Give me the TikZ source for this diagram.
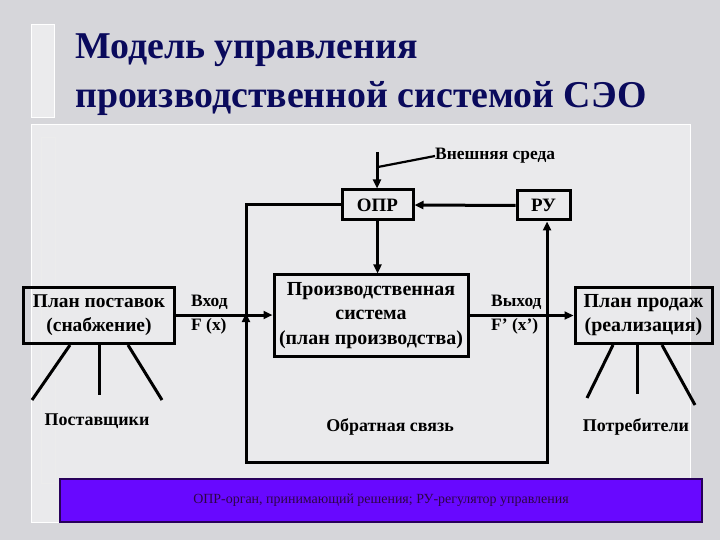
\documentclass[tikz,border=0pt]{standalone}
\usepackage{fontspec}
\setmainfont{Liberation Serif}
\usetikzlibrary{arrows.meta,calc}
\definecolor{bgmarble}{RGB}{214,214,218}
\definecolor{panel}{RGB}{234,234,236}
\definecolor{titleblue}{RGB}{10,10,92}
\definecolor{barfill}{RGB}{104,8,255}
\definecolor{barborder}{RGB}{40,0,90}
\definecolor{bartext}{RGB}{45,5,70}
\tikzset{
  blk/.style={draw=black, line width=3bp, inner sep=0pt, align=center, font=\fontsize{20}{24.5}\selectfont\bfseries},
  lbl/.style={inner sep=0pt, font=\fontsize{17.5}{24}\selectfont\bfseries, align=left},
  wire/.style={draw=black, line width=3bp},
  arr/.style={wire, -{Triangle[length=9bp,width=8bp]}},
  ttl/.style={inner sep=0pt, anchor=base west, font=\fontsize{38}{44}\selectfont\bfseries}
}
\begin{document}
\begin{tikzpicture}[x=1bp,y=-1bp]
\useasboundingbox (0,0) rectangle (720,540);
% background
\fill[bgmarble] (0,0) rectangle (720,540);
\draw[white, line width=1bp, fill=panel] (31,125) rectangle (690,522);
\draw[white, line width=1bp, fill=panel!95!white] (31,25) rectangle (54,118);
\draw[white!85!gray, line width=0.8bp] (41,137) rectangle (55,483);
% title
\node[ttl, text=titleblue] (t1) at (75,59) {Модель управления};
\node[ttl, text=titleblue] (t2) at (75,108) {производственной системой СЭО};
% boxes
\node[blk, minimum width=71bp, minimum height=30bp, font=\fontsize{19}{22}\selectfont\bfseries] (opr) at (377.5,205) {ОПР};
\node[blk, minimum width=53bp, minimum height=29bp, font=\fontsize{19}{22}\selectfont\bfseries] (ru) at (543.5,205.5) {РУ};
\node[blk, minimum width=150bp, minimum height=56bp, font=\fontsize{19.5}{24.5}\selectfont\bfseries] (plan) at (99,315) {План поставок\\(снабжение)};
\node[blk, minimum width=194bp, minimum height=81bp] (prod) at (371,315.5) {Производственная\\система\\(план производства)};
\node[blk, minimum width=137bp, minimum height=56bp] (sales) at (643.5,315) {План продаж\\(реализация)};
% labels
\node[lbl, anchor=west] (vhod) at (191,315) {Вход\\F (x)};
\node[lbl, anchor=west] (vyhod) at (491,315) {Выход\\F’ (x’)};
\node[lbl, anchor=west] (env) at (435,156) {Внешняя среда};
\node[blk, draw=none, font=\fontsize{18}{22}\selectfont\bfseries] (post) at (97,421) {Поставщики};
\node[blk, draw=none, font=\fontsize{18}{22}\selectfont\bfseries] (potr) at (636,427) {Потребители};
\node[blk, draw=none, font=\fontsize{18}{22}\selectfont\bfseries] (obr) at (390,427) {Обратная связь};
% coordinates
\coordinate (envtop) at (377,152);
\coordinate (envjoin) at (378,167);
\coordinate (bl) at (246,462);
\coordinate (br) at (547,462);
\coordinate (cross) at (bl |- plan.east);
\coordinate (p1a) at (70,345); \coordinate (p1b) at (32,400);
\coordinate (p2a) at (99,345); \coordinate (p2b) at (99,395);
\coordinate (p3a) at (128,345); \coordinate (p3b) at (162,400);
\coordinate (s1a) at (613,345); \coordinate (s1b) at (587,398);
\coordinate (s2a) at (637,345); \coordinate (s2b) at (637,394);
\coordinate (s3a) at (662,345); \coordinate (s3b) at (695,405);
% connectors
\draw[arr] (envtop) -- (envtop |- opr.north);
\draw[wire, line width=2.2bp] (envjoin) -- (env.west);
\draw[arr] (opr.south) -- (opr.south |- prod.north);
\draw[arr] (ru.west) -- (opr.east);
\draw[arr] (opr.west) -| (bl) -- (br) -- (br |- ru.south);
\draw[arr] ($(cross)+(0,10)$) -- ($(cross)+(0,-2)$);
\draw[arr] (plan.east) -- (plan.east -| prod.west);
\draw[arr] (prod.east) -- (prod.east -| sales.west);
\draw[wire] (p1a) -- (p1b);
\draw[wire] (p2a) -- (p2b);
\draw[wire] (p3a) -- (p3b);
\draw[wire] (s1a) -- (s1b);
\draw[wire] (s2a) -- (s2b);
\draw[wire] (s3a) -- (s3b);
% bottom bar
\node[draw=barborder, line width=1.5bp, fill=barfill, minimum width=642bp, minimum height=43bp, inner sep=0pt, text=bartext, font=\fontsize{14}{16}\selectfont] (bar) at (381,500.5) {ОПР-орган, принимающий решения; РУ-регулятор управления};
\end{tikzpicture}
\end{document}
